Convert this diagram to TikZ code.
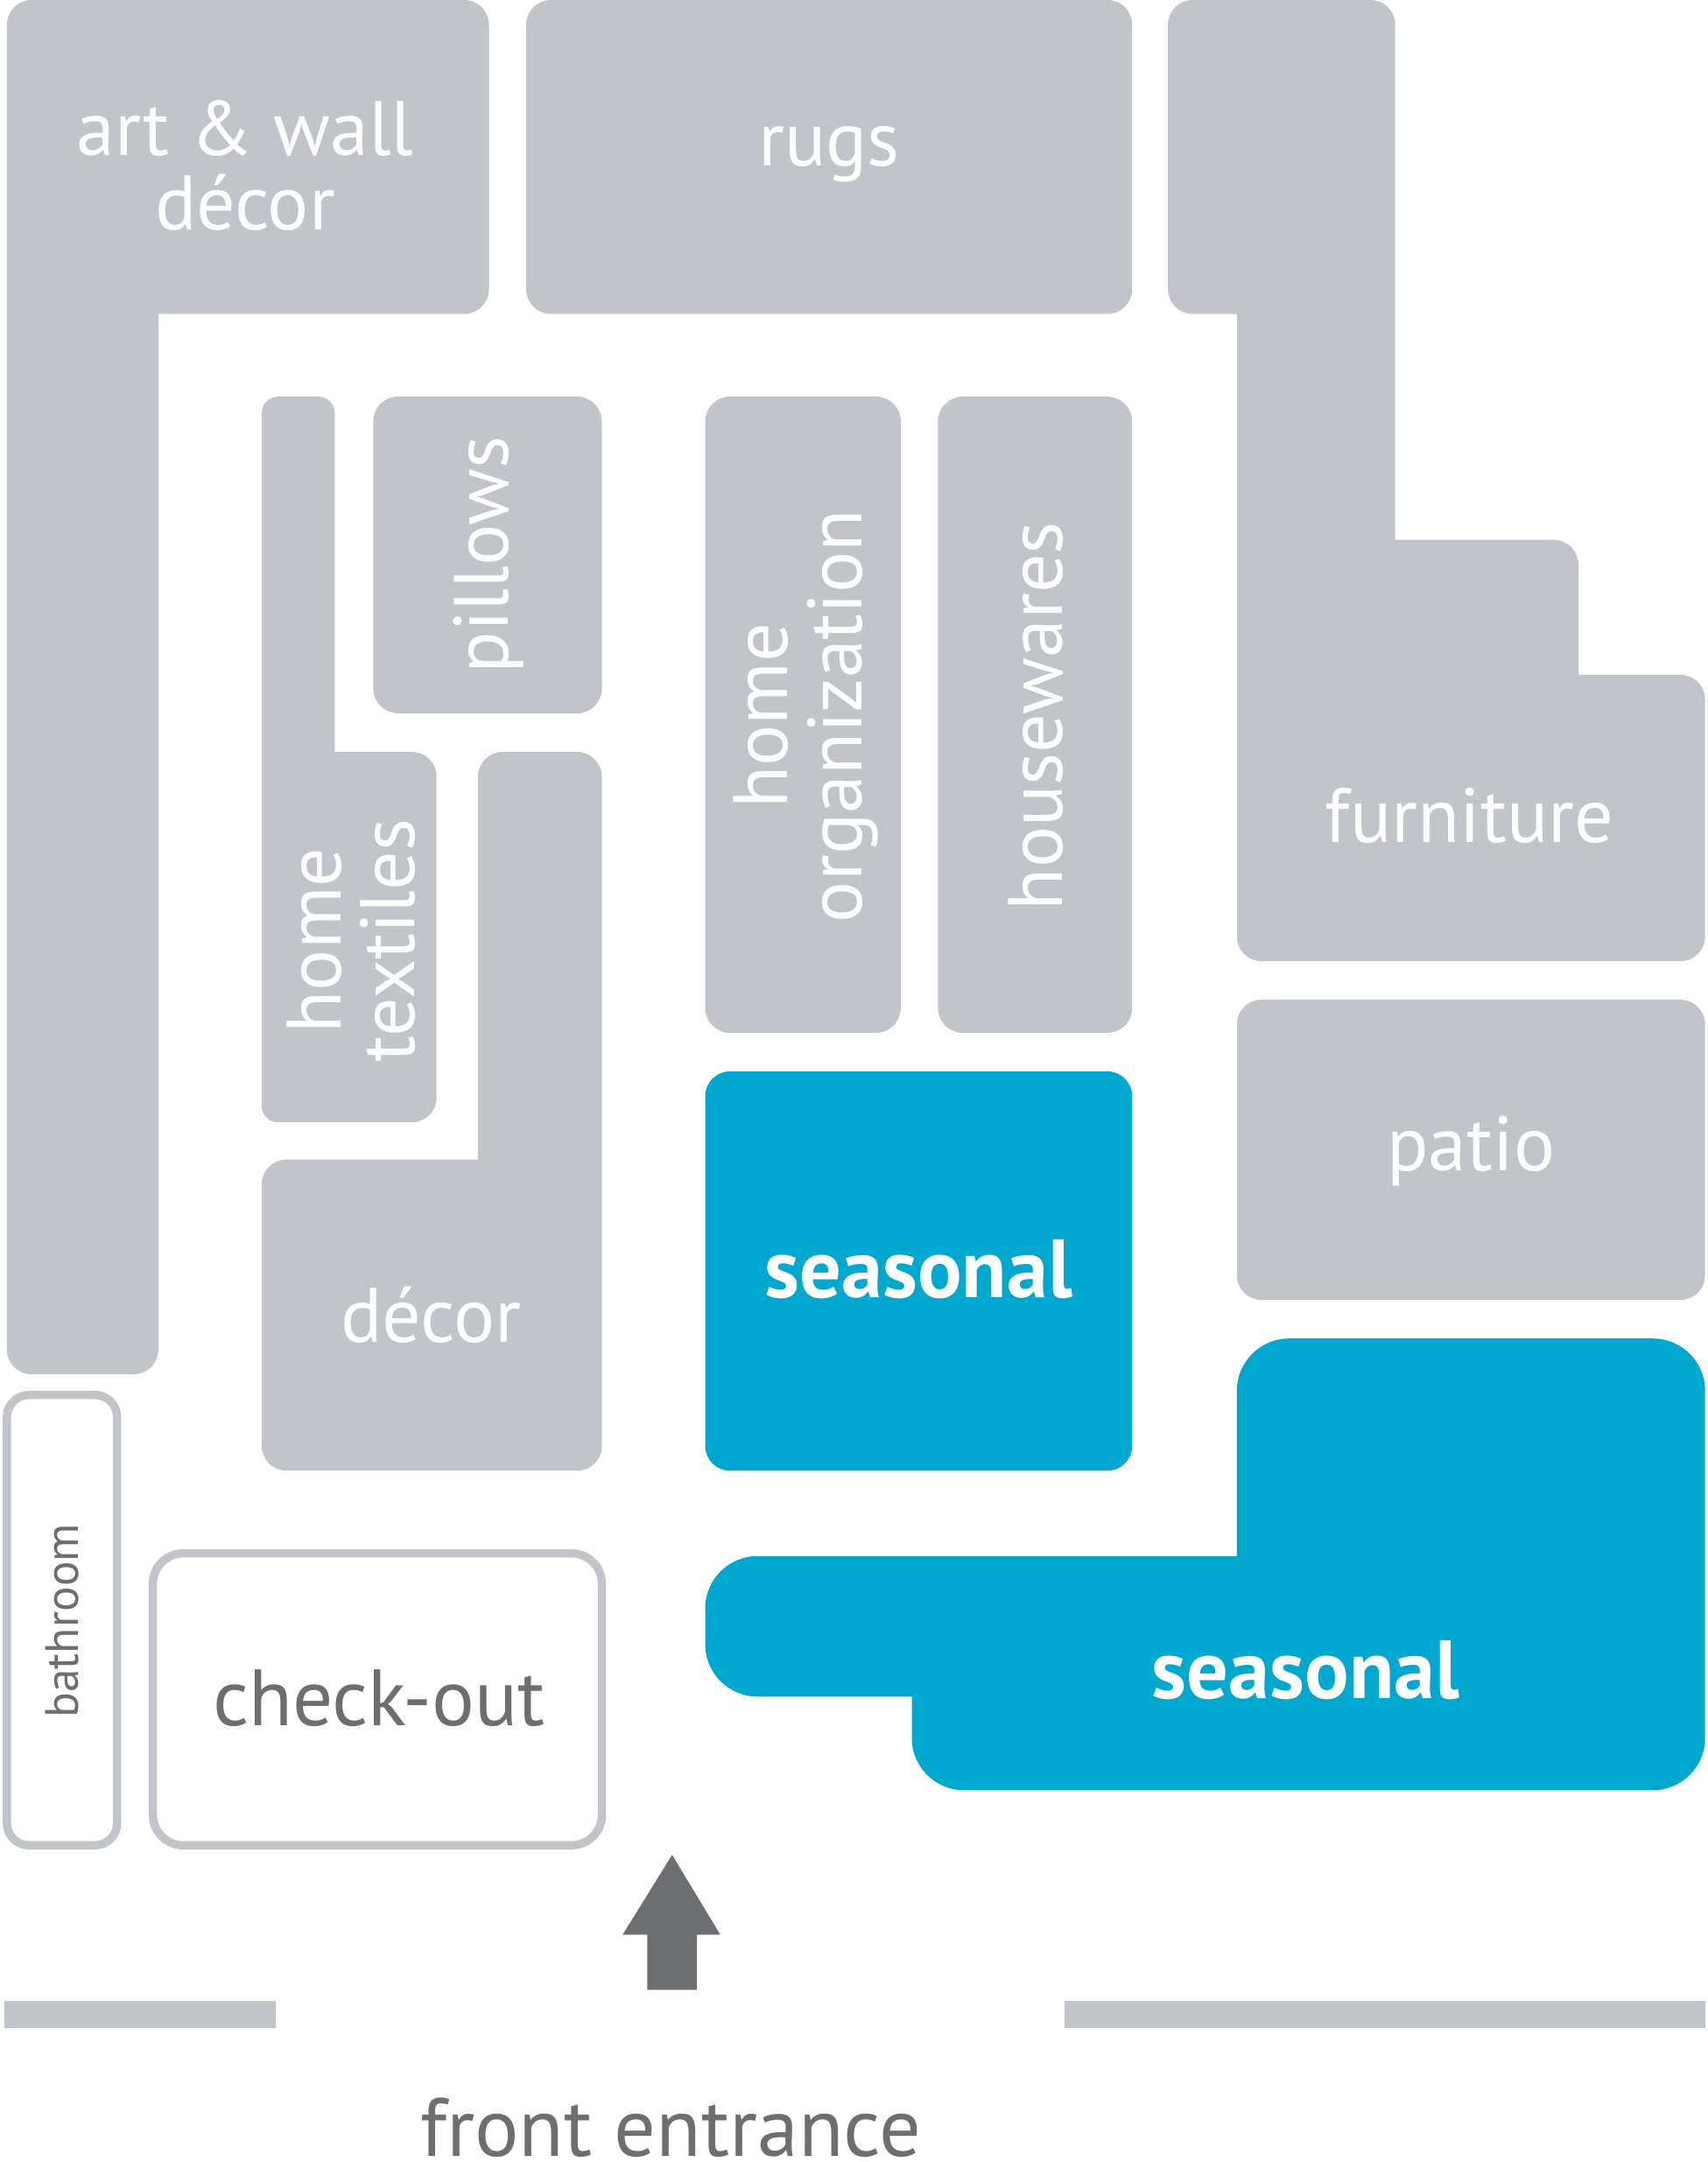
\documentclass[tikz,border=0pt]{standalone}
\usepackage{fontspec}
\setmainfont{PT Sans}
\definecolor{g}{HTML}{C1C4C8}
\definecolor{b}{HTML}{00A8D0}
\definecolor{d}{HTML}{6D6E70}
\begin{document}
\begin{tikzpicture}[x=1pt,y=-1pt,
 blk/.style={fill=g,rounded corners=18pt},
 sea/.style={fill=b,rounded corners=18pt},
 lab/.style={text=white,font=\fontsize{56}{54}\selectfont,align=center},
 slab/.style={text=white,font=\fontsize{60}{60}\selectfont\bfseries}]
\useasboundingbox (0,0) rectangle (1240,1570);
\fill[blk] (5,0) rectangle (355,228) (5,0) rectangle (115,998);
\node[lab] (art) at (178,120) {art \& wall\\décor};
\fill[blk] (382,0) rectangle (822,228);
\node[lab] (rugs) at (602,112) {rugs};
\fill[blk] (848,0) rectangle (1013,228) (898,100) rectangle (1013,698)
  (898,392) rectangle (1146,698) (898,490) rectangle (1238,698);
\node[lab] (furn) at (1067,592) {furniture};
\fill[blk] [rounded corners=12pt] (190,288) rectangle (243,815) [rounded corners=18pt] (190,546) rectangle (317,815);
\node[lab,rotate=90] (tex) at (255,683) {home\\textiles};
\fill[blk] (271,288) rectangle (437,518);
\node[lab,rotate=90] (pil) at (355,403) {pillows};
\fill[blk] (347,546) rectangle (437,1068) (190,842) rectangle (437,1068);
\node[lab] (dec) at (313,955) {décor};
\fill[blk] (512,288) rectangle (654,750);
\node[lab,rotate=90] (org) at (585,520) {home\\organization};
\fill[blk] (681,288) rectangle (822,750);
\node[lab,rotate=90] (hw) at (752,520) {housewares};
\fill[sea] (512,778) rectangle (822,1068);
\node[slab] (s1) at (667,922) {seasonal};
\fill[blk] (898,726) rectangle (1238,944);
\node[lab] (pat) at (1068,836) {patio};
\fill[sea,rounded corners=38pt] (898,972) rectangle (1238,1300)
  (512,1130) rectangle (1238,1232) (662,1130) rectangle (1238,1300);
\node[slab] (s2) at (948,1213) {seasonal};
\draw[g,line width=6pt,rounded corners=16pt] (5,1013) rectangle (85,1340);
\node[text=d,rotate=90,font=\fontsize{34}{34}\selectfont] (bath) at (45,1177) {bathroom};
\draw[g,line width=6pt,rounded corners=22pt] (111,1128) rectangle (437,1340);
\node[text=d,font=\fontsize{58}{58}\selectfont] (co) at (275,1233) {check-out};
\fill[d] (488,1347)--(523,1405)--(506,1405)--(506,1445)--(470,1445)--(470,1405)--(452,1405)--cycle;
\fill[g] (3,1453) rectangle (200,1473);
\fill[g] (773,1453) rectangle (1238,1473);
\node[text=d,font=\fontsize{60}{60}\selectfont] (fe) at (487,1545) {front entrance};
\end{tikzpicture}
\end{document}
